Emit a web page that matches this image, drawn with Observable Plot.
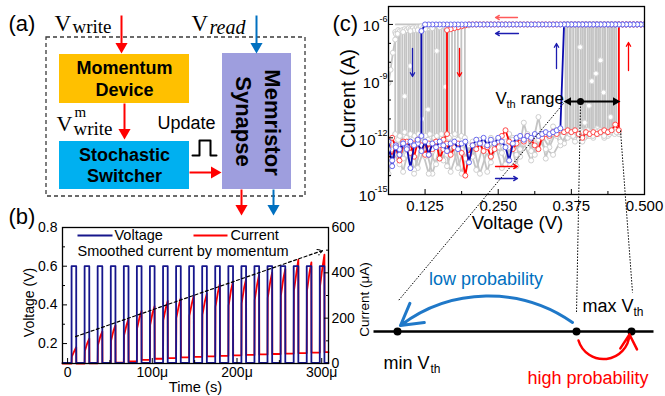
<!DOCTYPE html>
<html><head><meta charset="utf-8">
<script src="https://cdn.jsdelivr.net/npm/d3@7"></script>
<script src="https://cdn.jsdelivr.net/npm/@observablehq/plot@0.6"></script>
<style>
body{margin:0;background:#fff;}
#fig{position:relative;width:665px;height:396px;overflow:hidden;background:#fff;}
#fig svg{position:absolute;left:0;top:0;}
</style></head><body><div id="fig"></div>
<script>
// ---------------- Panel (b) data: pulse train ----------------
const pulseStartUs = [4.7,20.1,35.5,51.0,66.4,81.8,97.2,112.7,128.1,143.5,158.9,174.3,189.8,205.2,220.6,236.0,251.5,266.9,282.3,297.7];
const pulseWidthUs = 5.5;
const voltageLow = 0.1, voltageHigh = 0.6;
const currentPeakUA = [72,110,142,168,196,232,253,276,288,300,308,352,362,372,392,402,416,458,446,480];
const currentMidUA  = [55,90,120,145,170,205,225,245,255,265,275,315,325,335,350,360,375,400,400,425];
const currentJumpUA = [30,55,80,100,125,155,170,190,200,210,215,250,255,265,280,290,300,320,320,340];
const currentBaseUA = [0,1,2,4,9,16,21,24,27,29,31,34,36,38,40,42,44,46,48,50];
const timeTicks = [0,100e-6,200e-6,300e-6];
const timeMinor = [50e-6,150e-6,250e-6];
const voltTicks = [0.2,0.4,0.6,0.8];
const voltMinor = [0.3,0.5,0.7];
const curTicks = [0,200,400,600];
const curMinor = [100,300,500];

// ---------------- Panel (c) data: I-V sweeps (log10 current) ----------------
const sweepStart = 0.0625, sweepStep = 0.00625, sweepEnd = 0.5;
const onStateLog = -6.0;
const blueForwardLog = [-12.2,-13.5,-12.4,-12.6,-12.3,-12.5,-13.6,-12.4,-12.3,-12.7,-12.2,-12.9,-12.3,-12.5,-12.2,-12.4,-12.7,-12.3,-12.2,-12.6,-12.3,-12.2,-13.3,-12.4,-12.1,-12.3,-12.0,-12.4,-12.1,-12.3,-12.0,-12.2,-12.5,-13.2,-12.3,-12.0,-11.9,-12.1,-11.9,-12.0,-11.8,-11.9,-11.8,-11.7,-11.8,-11.7,-11.6,-11.5];
const blueSetV = 0.3625;
const blueOnEndV = 0.125;
const blueResetV = 0.11875, blueResetTopLog = -6.35, blueResetLowLog = -11.9;
const blueReverseLowLog = [-12.1,-12.4,-12.2,-12.6,-12.3,-12.9,-12.5,-13.2,-12.6];
const redForwardLog = [-12.3,-12.0,-12.5,-13.2,-12.4,-12.2,-12.8,-12.3,-12.1,-12.5,-12.3,-12.9,-12.4,-12.2,-13.1,-12.6,-12.3,-12.9,-12.5,-12.3,-12.8,-14.0,-12.9,-12.4,-12.6,-12.3,-12.7,-12.5,-13.0,-12.6,-12.2,-11.9,-11.6,-12.2,-12.6,-12.3,-12.0,-12.2,-11.9,-12.1,-12.4,-12.6,-12.0,-11.8,-11.9,-11.7,-11.8,-11.6,-11.7,-11.6,-11.7,-11.6,-11.8,-12.0,-11.7,-11.8,-11.7,-11.8,-11.7,-11.6,-11.7,-11.6,-11.3,-11.6];
const redSetV = 0.45625;
const redOnEndV = 0.2;
const redReverseTopLog = [-6.05,-6.1,-6.15,-6.2,-6.25,-6.3];
const redResetV = 0.1625, redResetLowLog = -11.8;
const redReverseLowLog = [-12.1,-12.4,-12.2,-12.6,-12.3,-12.9,-12.4,-12.2,-13.0,-12.3,-12.5,-12.2,-12.7,-12.4,-13.0,-12.5];
// grey: other cycles
const grayStep = 0.0125;
const grayLowA = [-13.9,-12.3,-13.8,-12.2,-13.6,-12.4,-13.9,-12.5,-13.5,-12.2,-13.9,-12.4,-13.7,-12.3,-13.3,-12.1,-13.4,-12.0,-13.0,-11.8,-12.9,-11.9,-12.5,-11.6,-12.3,-11.7,-12.1,-11.6,-12.0,-11.7,-11.9,-11.6];
const grayLowB = [-12.6,-13.4,-12.1,-13.7,-12.5,-13.9,-12.2,-13.2,-11.9,-13.6,-12.3,-13.0,-12.1,-13.8,-12.4,-12.8,-11.8,-13.5,-11.2,-12.7,-10.9,-13.1,-11.4,-12.4,-11.7,-12.2,-11.8,-11.9,-11.5,-12.0,-11.7,-11.8];
const grayLowC = [-12.2,-12.8,-13.1,-12.4,-12.1,-13.0,-12.7,-12.3,-12.9,-12.4,-12.6,-13.3,-12.2,-12.6,-12.0,-12.5,-12.2,-12.1,-12.6,-12.0,-12.3,-11.8,-12.0,-11.9,-11.7,-11.9,-11.6,-11.7,-11.8,-11.6,-11.7,-11.5];
const grayLowD = [-13.2,-12.1,-12.9,-13.9,-12.3,-12.6,-13.4,-12.1,-13.8,-12.6,-13.1,-12.2,-13.9,-12.7,-12.2,-13.6,-12.5,-12.9,-12.3,-13.2,-12.1,-12.6,-12.9,-12.2,-12.0,-11.8,-12.2,-11.9,-11.7,-11.8,-11.6,-11.7];
const graySetV = [0.365,0.368,0.372,0.374,0.378,0.382,0.385,0.387,0.391,0.394,0.397,0.399,0.403,0.406,0.409,0.412,0.416,0.418,0.421,0.424,0.428,0.431,0.433,0.437,0.440,0.443,0.446,0.449,0.452];
const graySetLowLog = [-11.7,-11.6,-11.8,-11.7,-11.9,-11.6,-11.7,-11.8,-11.6,-11.7,-12.0,-11.7,-11.6,-11.8,-11.7,-11.9,-11.6,-11.7,-11.8,-11.6,-11.7,-11.9,-11.6,-11.7,-11.8,-11.7,-11.6,-11.8,-11.7];
const grayResetV = [0.074,0.079,0.082,0.086,0.09,0.093,0.097,0.1,0.104,0.107,0.111,0.114,0.118,0.122,0.126,0.13,0.133,0.137,0.141,0.145,0.149,0.153,0.157,0.161,0.166,0.171,0.176,0.181,0.187,0.193];
const grayResetTopLog = [-6.4,-6.3,-6.35,-6.3,-6.25,-6.3,-6.2,-6.25,-6.2,-6.3,-6.15,-6.2,-6.1,-6.15,-6.1,-6.2,-6.1,-6.15,-6.1,-6.05,-6.1,-6.05,-6.1,-6.05,-6.1,-6.05,-6.1,-6.05,-6.1,-6.05];
const grayResetLowLog = [-11.8,-12.1,-11.9,-12.3,-11.7,-12.0,-12.2,-11.8,-12.1,-11.9,-12.4,-11.8,-12.0,-12.2,-11.9,-12.1,-11.8,-12.3,-12.0,-11.9,-12.2,-11.8,-12.1,-11.9,-12.0,-12.2,-11.8,-12.1,-11.9,-12.0];
const grayMidV = [0.39,0.405,0.417,0.43,0.442,0.398,0.425,0.41,0.1,0.13,0.16,0.12,0.145,0.09];
const grayMidLog = [-7.2,-10.3,-8.6,-9.6,-10.9,-11.2,-7.9,-9.0,-8.2,-10.5,-9.3,-11.0,-7.4,-9.8];
const grayOnBLog = [-6.5,-6.4,-6.35,-6.3,-6.25,-6.2,-6.15,-6.1,-6.1,-6.05,-6.05,-6.0,-6.0,-6.0,-6.0,-6.0,-6.0,-6.0,-6.0];
const grayLeftV = [0.0625,0.066,0.07,0.074,0.078];
const grayLeftLog = [-9.1,-8.4,-7.5,-6.8,-6.5];
const cXTicks = [0.125,0.25,0.375,0.5];
const cXMinor = [0.1875,0.3125,0.4375];
const cYExp = [-15,-12,-9,-6];
const cYMinorExp = [-14,-13,-11,-10,-8,-7];

// ---------------- build ----------------
const W = 665, H = 396;
const FONT = '"Liberation Sans", Arial, sans-serif';
const SERIF = '"Liberation Serif", "Times New Roman", serif';
const RED = "#ff0000", NAVY = "#16168c", BLUEA = "#0070C0";
const fig = document.getElementById("fig");

// panel (b)
const tMin = -6e-6, tMax = 308e-6;
const voltDomain = [0.097, 0.8];
const cur2v = i => voltDomain[0] + i / 600 * (voltDomain[1] - voltDomain[0]);
const v2cur = v => (v - voltDomain[0]) / (voltDomain[1] - voltDomain[0]) * 600;
const voltagePts = [{t: tMin, v: voltageLow}];
pulseStartUs.forEach(s => {
  const a = s * 1e-6, b = (s + pulseWidthUs) * 1e-6;
  voltagePts.push({t: a, v: voltageLow}, {t: a, v: voltageHigh}, {t: b, v: voltageHigh}, {t: b, v: voltageLow});
});
voltagePts.push({t: tMax, v: voltageLow});
const currentPts = [{t: tMin, i: 0}];
pulseStartUs.forEach((s, k) => {
  const prev = k ? currentBaseUA[k - 1] : 0;
  const a = s * 1e-6, b = (s + pulseWidthUs) * 1e-6;
  currentPts.push({t: a, i: prev}, {t: a + 0.3e-6, i: currentJumpUA[k]}, {t: a + 3.2e-6, i: currentMidUA[k]},
    {t: b, i: currentPeakUA[k]}, {t: b + 0.2e-6, i: currentBaseUA[k]});
});
currentPts.push({t: tMax, i: currentBaseUA[currentBaseUA.length - 1]});

const fmtTime = d => d === 0 ? "0" : Math.round(d * 1e6) + "μ";
const plotB = Plot.plot({
  width: W, height: H, marginLeft: 62, marginRight: W - 328, marginTop: 227, marginBottom: H - 363,
  style: {background: "none", fontFamily: FONT, fontSize: "14px", color: "#000"},
  x: {domain: [tMin, tMax]}, y: {domain: voltDomain},
  marks: [
    Plot.line(currentPts, {x: "t", y: d => cur2v(d.i), stroke: RED, strokeWidth: 1.8}),
    Plot.line(voltagePts, {x: "t", y: "v", stroke: NAVY, strokeWidth: 1.8}),
    Plot.arrow([{x1: 9.4e-6, y1: 0.236, x2: 301e-6, y2: 0.681}], {x1: "x1", y1: "y1", x2: "x2", y2: "y2", stroke: "#000", strokeWidth: 1.2, strokeDasharray: "3,2.5", headLength: 7}),
    Plot.axisX(timeTicks, {tickSize: -5, tickPadding: 9, tickFormat: fmtTime, label: null}),
    Plot.axisX(timeMinor, {tickSize: -3, tickFormat: () => "", label: null}),
    Plot.axisY(voltTicks, {tickSize: -5, tickPadding: 10, tickFormat: d => d.toFixed(1), label: null}),
    Plot.axisY(voltMinor, {tickSize: -3, tickFormat: () => "", label: null}),
    Plot.axisY(curTicks.map(cur2v), {anchor: "right", tickSize: -5, tickPadding: 8, tickFormat: v => String(Math.round(v2cur(v))), label: null}),
    Plot.axisY(curMinor.map(cur2v), {anchor: "right", tickSize: -3, tickFormat: () => "", label: null}),
    Plot.frame({stroke: "#000", strokeWidth: 1.3})
  ]
});

// panel (c)
const vAt = i => +(sweepStart + i * sweepStep).toFixed(6);
const bluePts = [];
blueForwardLog.forEach((l, i) => bluePts.push({v: vAt(i), l}));
for (let v = blueSetV; v <= sweepEnd + 1e-9; v += sweepStep) bluePts.push({v, l: onStateLog});
for (let v = sweepEnd; v >= blueOnEndV - 1e-9; v -= sweepStep) bluePts.push({v, l: onStateLog});
bluePts.push({v: blueResetV, l: blueResetTopLog}, {v: blueResetV, l: blueResetLowLog});
blueReverseLowLog.forEach((l, i) => bluePts.push({v: blueResetV - (i + 1) * sweepStep, l}));

const redPts = [];
redForwardLog.forEach((l, i) => redPts.push({v: vAt(i), l}));
redPts.push({v: redSetV, l: onStateLog});
for (let v = redSetV + sweepStep; v <= sweepEnd + 1e-9; v += sweepStep) redPts.push({v, l: onStateLog});
for (let v = sweepEnd; v >= redOnEndV - 1e-9; v -= sweepStep) redPts.push({v, l: onStateLog});
redReverseTopLog.forEach((l, i) => redPts.push({v: redOnEndV - (i + 1) * sweepStep, l}));
redPts.push({v: redResetV, l: redResetLowLog});
redReverseLowLog.forEach((l, i) => redPts.push({v: redResetV - (i + 1) * sweepStep, l}));

const grayLines = [];
[grayLowA, grayLowB, grayLowC, grayLowD].forEach((arr, s) => grayLines.push(arr.map((l, i) => ({v: sweepStart + i * grayStep + (s % 2 === 1 ? grayStep / 2 : 0), l, s}))));
const graySegs = [];
graySetV.forEach((v, i) => graySegs.push({v1: v, l1: graySetLowLog[i], v2: v, l2: onStateLog}));
grayResetV.forEach((v, i) => graySegs.push({v1: v, l1: grayResetTopLog[i], v2: v, l2: grayResetLowLog[i]}));
const grayOnA = [];
for (let v = 0.075; v <= sweepEnd + 1e-9; v += sweepStep) grayOnA.push({v, l: onStateLog});
const grayOnB = grayOnBLog.map((l, i) => ({v: 0.075 + i * grayStep, l}));
const grayLeft = grayLeftV.map((v, i) => ({v, l: grayLeftLog[i]}));
const grayMid = grayMidV.map((v, i) => ({v, l: grayMidLog[i]}));
const grayEnds = graySegs.flatMap(d => [{v: d.v1, l: d.l1}, {v: d.v2, l: d.l2}]);

const G = "#c4c4c4";
const p10 = d => 10 ** d.l;
const grayLineMarks = grayLines.map(arr => Plot.line(arr, {x: "v", y: p10, stroke: G, strokeWidth: 1.8, clip: true}));
const grayDotMarks = grayLines.map(arr => Plot.dot(arr, {x: "v", y: p10, r: 2.5, stroke: "#cfcfcf", fill: "#fff", strokeWidth: 1, clip: true}));

const plotC = Plot.plot({
  width: W, height: H, marginLeft: 388, marginRight: W - 644, marginTop: 6, marginBottom: H - 194,
  style: {background: "none", fontFamily: FONT, fontSize: "15px", color: "#000"},
  x: {domain: [sweepStart, sweepEnd]},
  y: {type: "log", domain: [1e-15, 10 ** -5.05]},
  marks: [
    ...grayLineMarks,
    Plot.link(graySegs, {x1: "v1", x2: "v2", y1: d => 10 ** d.l1, y2: d => 10 ** d.l2, stroke: G, strokeWidth: 1.8, clip: true}),
    Plot.line(grayOnB, {x: "v", y: p10, stroke: G, strokeWidth: 1.8, clip: true}),
    Plot.line(grayLeft, {x: "v", y: p10, stroke: G, strokeWidth: 1.8, clip: true}),
    Plot.line(grayOnA, {x: "v", y: p10, stroke: G, strokeWidth: 1.8, clip: true}),
    ...grayDotMarks,
    Plot.dot(grayEnds, {x: "v", y: p10, r: 2.5, stroke: "#cfcfcf", fill: "#fff", strokeWidth: 1, clip: true}),
    Plot.dot(grayOnB, {x: "v", y: p10, r: 2.5, stroke: "#cfcfcf", fill: "#fff", strokeWidth: 1, clip: true}),
    Plot.dot(grayLeft, {x: "v", y: p10, r: 2.5, stroke: "#cfcfcf", fill: "#fff", strokeWidth: 1, clip: true}),
    Plot.dot(grayMid, {x: "v", y: p10, r: 2.5, stroke: "#d8d8d8", fill: "#fff", strokeWidth: 1, clip: true}),
    Plot.line(redPts, {x: "v", y: p10, stroke: RED, strokeWidth: 1.8, clip: true}),
    Plot.dot(redPts, {x: "v", y: p10, r: 2.5, stroke: "#ff4a4a", fill: "#fff", strokeWidth: 1, clip: true}),
    Plot.line(bluePts, {x: "v", y: p10, stroke: "#0c0cb0", strokeWidth: 1.8, clip: true}),
    Plot.dot(bluePts, {x: "v", y: p10, r: 2.5, stroke: "#6868ee", fill: "#fff", strokeWidth: 1, clip: true}),
    Plot.axisX(cXTicks, {tickSize: -5, tickPadding: 11, tickFormat: d => d.toFixed(3), label: null}),
    Plot.axisX(cXMinor, {tickSize: -3, tickFormat: () => "", label: null}),
    Plot.axisY(cYExp.map(e => 10 ** e), {tickSize: -5, tickFormat: () => "", label: null}),
    Plot.axisY(cYMinorExp.map(e => 10 ** e), {tickSize: -3, tickFormat: () => "", label: null}),
    Plot.text(cYExp.filter(e => e > -10), {frameAnchor: "left", y: e => 10 ** e, text: () => "10", textAnchor: "end", dx: -9, dy: 2, fontSize: 15}),
    Plot.text(cYExp.filter(e => e <= -10), {frameAnchor: "left", y: e => 10 ** e, text: () => "10", textAnchor: "end", dx: -13, dy: 2, fontSize: 15}),
    Plot.text(cYExp, {frameAnchor: "left", y: e => 10 ** e, text: e => String(e), textAnchor: "end", dx: -1, dy: -5, fontSize: 9}),
    Plot.frame({stroke: "#000", strokeWidth: 1.3})
  ]
});

// ---------------- overlay: diagrams & annotations (pixel coordinates) ----------------
const diagramBoxes = [
  {x1: 59, x2: 189, y1: 54, y2: 103, fill: "#FFC000"},
  {x1: 59, x2: 189, y1: 141, y2: 189, fill: "#00B0F0"},
  {x1: 222, x2: 291, y1: 53, y2: 189, fill: "#9E9EDE"}
];
const dashedBox = [{x1: 46, x2: 305, y1: 37, y2: 196}];
const overlayLinks = [
  {x1: 121, y1: 15, x2: 121, y2: 44, stroke: RED, w: 2},
  {x1: 256, y1: 15, x2: 256, y2: 44, stroke: BLUEA, w: 2},
  {x1: 124, y1: 103, x2: 124, y2: 130, stroke: RED, w: 2},
  {x1: 189, y1: 172, x2: 211, y2: 172, stroke: RED, w: 2},
  {x1: 241, y1: 189, x2: 241, y2: 205, stroke: RED, w: 2},
  {x1: 273, y1: 189, x2: 273, y2: 205, stroke: BLUEA, w: 2},
  {x1: 77, y1: 235, x2: 112, y2: 235, stroke: NAVY, w: 2},
  {x1: 193, y1: 235, x2: 227, y2: 235, stroke: RED, w: 2},
  {x1: 566, y1: 101, x2: 617, y2: 101, stroke: "#000", w: 2},
  {x1: 373, y1: 331, x2: 653, y2: 331, stroke: "#000", w: 2.5}
];
const dottedLinks = [
  {x1: 563, y1: 103, x2: 398, y2: 300},
  {x1: 580, y1: 103, x2: 576, y2: 313},
  {x1: 620, y1: 130, x2: 632, y2: 292}
];
const heads = [
  {x: 121, y: 46, rot: 180, fill: RED, r: 4.5},
  {x: 256, y: 46, rot: 180, fill: BLUEA, r: 4.5},
  {x: 124, y: 132, rot: 180, fill: RED, r: 4.5},
  {x: 214, y: 172, rot: 90, fill: RED, r: 4.5},
  {x: 241, y: 208, rot: 180, fill: RED, r: 4.5},
  {x: 273, y: 208, rot: 180, fill: BLUEA, r: 4.5},
  {x: 568, y: 101, rot: 270, fill: "#000", r: 3.2},
  {x: 615, y: 101, rot: 90, fill: "#000", r: 3.2}
];
const blackDots = [{x: 580, y: 101, r: 3.5}, {x: 397, y: 331, r: 4}, {x: 576, y: 331, r: 4}, {x: 631, y: 331, r: 4}];
const smallArrows = [
  {x1: 517, y1: 17, x2: 495, y2: 17, stroke: "#ff5a5a"},
  {x1: 518, y1: 33, x2: 495, y2: 33, stroke: "#1c1cb0"},
  {x1: 412, y1: 48, x2: 412, y2: 76, stroke: "#1c1cb0"},
  {x1: 459, y1: 48, x2: 459, y2: 76, stroke: RED},
  {x1: 556, y1: 68, x2: 556, y2: 43, stroke: "#1c1cb0"},
  {x1: 628, y1: 70, x2: 628, y2: 42, stroke: RED},
  {x1: 495, y1: 166, x2: 517, y2: 166, stroke: RED},
  {x1: 495, y1: 178, x2: 517, y2: 178, stroke: "#1c1cb0"}
];
const arcArrows = [
  {x1: 572, y1: 322, x2: 400, y2: 325, stroke: "#1f78c8", w: 3, bend: -36, head: 12},
  {x1: 578, y1: 340, x2: 629, y2: 334, stroke: RED, w: 2.5, bend: -80, head: 10}
];
const pulseSymbol = [{x: 192, y: 155}, {x: 199, y: 155}, {x: 199, y: 140}, {x: 210, y: 140}, {x: 210, y: 155}, {x: 216, y: 155}];
const overlayTexts = [
  {x: 8, y: 23, text: "(a)", size: 22, anchor: "start"},
  {x: 54, y: 23.6, text: "V", size: 23, family: SERIF, anchor: "start"},
  {x: 72, y: 26.9, text: "write", size: 19, family: SERIF, anchor: "start"},
  {x: 191, y: 23.6, text: "V", size: 23, family: SERIF, anchor: "start"},
  {x: 209, y: 26.6, text: "read", size: 20, family: SERIF, style: "italic", anchor: "start"},
  {x: 124, y: 68.2, text: "Momentum", size: 18, weight: "bold"},
  {x: 124, y: 90.2, text: "Device", size: 18, weight: "bold"},
  {x: 56, y: 123, text: "V", size: 22, family: SERIF, anchor: "start"},
  {x: 74, y: 112, text: "m", size: 15, family: SERIF, anchor: "start"},
  {x: 73, y: 128, text: "write", size: 19, family: SERIF, anchor: "start"},
  {x: 157, y: 123.2, text: "Update", size: 18, anchor: "start"},
  {x: 124, y: 155.2, text: "Stochastic", size: 18, weight: "bold"},
  {x: 124, y: 176.2, text: "Switcher", size: 18, weight: "bold"},
  {x: 272, y: 122, text: "Memristor", size: 22, weight: "bold", rotate: 90},
  {x: 243, y: 121, text: "Synapse", size: 22, weight: "bold", rotate: 90},
  {x: 8, y: 216, text: "(b)", size: 22, anchor: "start"},
  {x: 114, y: 235, text: "Voltage", size: 14.5, anchor: "start"},
  {x: 230, y: 235, text: "Current", size: 14.5, anchor: "start"},
  {x: 77, y: 251, text: "Smoothed current by momentum", size: 14.5, anchor: "start"},
  {x: 29, y: 302, text: "Voltage (V)", size: 14, rotate: -90},
  {x: 195, y: 387, text: "Time (s)", size: 14.7},
  {x: 364, y: 299, text: "Current (μA)", size: 13.5, rotate: -90},
  {x: 332, y: 23, text: "(c)", size: 22, anchor: "start"},
  {x: 348, y: 98, text: "Current (A)", size: 20, rotate: -90},
  {x: 517, y: 223, text: "Voltage (V)", size: 18.5},
  {x: 495, y: 97.6, text: "V", size: 17, anchor: "start"},
  {x: 506, y: 103.5, text: "th", size: 11, anchor: "start"},
  {x: 520, y: 97.6, text: "range", size: 17, anchor: "start"},
  {x: 485.5, y: 279, text: "low probability", size: 18, fill: "#0070C0"},
  {x: 587.5, y: 378, text: "high probability", size: 18, fill: RED},
  {x: 582, y: 306, text: "max V", size: 18, anchor: "start"},
  {x: 633, y: 312, text: "th", size: 12, anchor: "start"},
  {x: 383, y: 363, text: "min V", size: 18, anchor: "start"},
  {x: 430, y: 369, text: "th", size: 12, anchor: "start"}
];

const overlay = Plot.plot({
  width: W, height: H, margin: 0,
  x: {type: "identity", axis: null}, y: {type: "identity", axis: null},
  style: {background: "none", fontFamily: FONT, color: "#000"},
  marks: [
    Plot.rect(diagramBoxes, {x1: "x1", x2: "x2", y1: "y1", y2: "y2", fill: d => d.fill}),
    Plot.rect(dashedBox, {x1: "x1", x2: "x2", y1: "y1", y2: "y2", fill: "none", stroke: "#3a3a3a", strokeWidth: 1.3, strokeDasharray: "4,3"}),
    Plot.line(pulseSymbol, {x: "x", y: "y", stroke: "#000", strokeWidth: 2}),
    ...overlayLinks.map(l => Plot.link([l], {x1: "x1", y1: "y1", x2: "x2", y2: "y2", stroke: l.stroke, strokeWidth: l.w})),
    Plot.link(dottedLinks, {x1: "x1", y1: "y1", x2: "x2", y2: "y2", stroke: "#000", strokeWidth: 1, strokeDasharray: "1.5,1.5"}),
    ...heads.map(h => Plot.dot([h], {x: "x", y: "y", symbol: "triangle", r: h.r, fill: h.fill, stroke: "none", rotate: h.rot})),
    ...blackDots.map(d => Plot.dot([d], {x: "x", y: "y", r: d.r, fill: "#000"})),
    ...smallArrows.map(a => Plot.arrow([a], {x1: "x1", y1: "y1", x2: "x2", y2: "y2", stroke: a.stroke, strokeWidth: 1.3, headLength: 5})),
    ...arcArrows.map(a => Plot.arrow([a], {x1: "x1", y1: "y1", x2: "x2", y2: "y2", stroke: a.stroke, strokeWidth: a.w, bend: a.bend, headLength: a.head})),
    ...overlayTexts.map(t => Plot.text([t], {x: "x", y: "y", text: "text", fontSize: t.size, fontWeight: t.weight || "normal",
      fontFamily: t.family || FONT, fontStyle: t.style || "normal", textAnchor: t.anchor || "middle", fill: t.fill || "#000", rotate: t.rotate || 0}))
  ]
});

fig.append(plotB, plotC, overlay);
</script></body></html>
